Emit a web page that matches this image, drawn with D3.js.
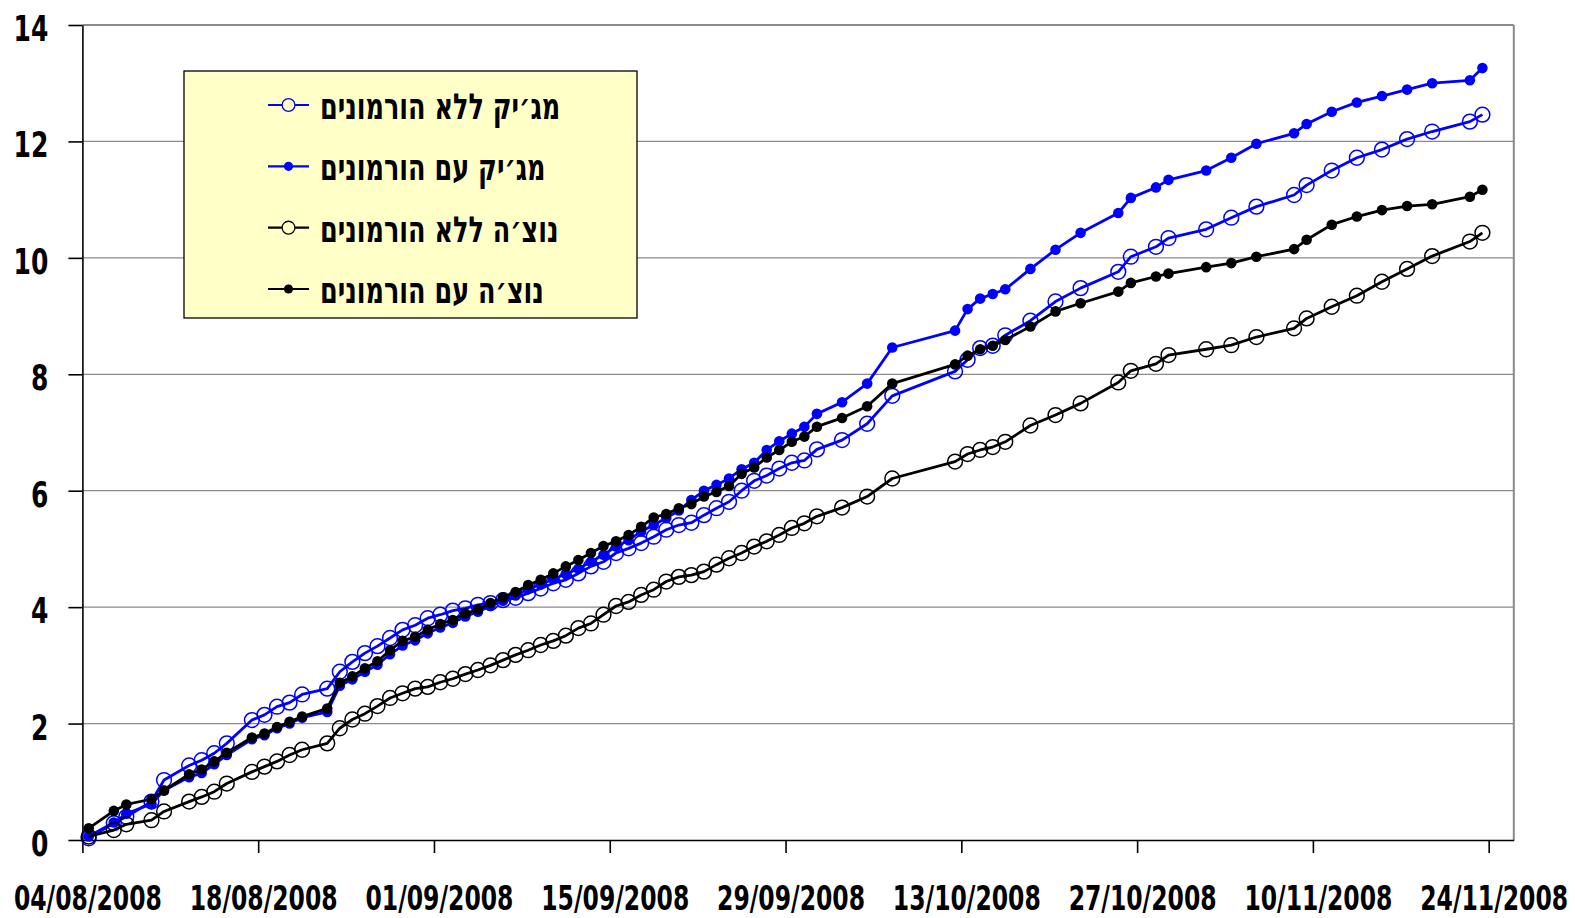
<!DOCTYPE html>
<html>
<head>
<meta charset="utf-8">
<script src="https://cdn.jsdelivr.net/npm/d3@7"></script>
<style>
  html, body { margin: 0; padding: 0; background: #fff; }
  svg { display: block; }
</style>
</head>
<body>
<svg id="chart" width="1575" height="918"></svg>
<script>
/* ---------- data ---------- */
const dates = [
  "04/08/2008", "06/08/2008", "07/08/2008", "09/08/2008", "10/08/2008", "12/08/2008",
  "13/08/2008", "14/08/2008", "15/08/2008", "17/08/2008", "18/08/2008", "19/08/2008",
  "20/08/2008", "21/08/2008", "23/08/2008",
  "24/08/2008", "25/08/2008", "26/08/2008", "27/08/2008", "28/08/2008", "29/08/2008",
  "30/08/2008", "31/08/2008", "01/09/2008", "02/09/2008", "03/09/2008", "04/09/2008",
  "05/09/2008", "06/09/2008", "07/09/2008", "08/09/2008", "09/09/2008", "10/09/2008",
  "11/09/2008", "12/09/2008", "13/09/2008", "14/09/2008", "15/09/2008", "16/09/2008",
  "17/09/2008", "18/09/2008", "19/09/2008", "20/09/2008", "21/09/2008", "22/09/2008",
  "23/09/2008", "24/09/2008", "25/09/2008", "26/09/2008", "27/09/2008", "28/09/2008",
  "29/09/2008", "30/09/2008", "01/10/2008",
  "03/10/2008", "05/10/2008", "07/10/2008", "12/10/2008", "13/10/2008", "14/10/2008",
  "15/10/2008", "16/10/2008", "18/10/2008", "20/10/2008", "22/10/2008", "25/10/2008",
  "26/10/2008", "28/10/2008", "29/10/2008", "01/11/2008", "03/11/2008", "05/11/2008",
  "08/11/2008", "09/11/2008", "11/11/2008", "13/11/2008", "15/11/2008", "17/11/2008",
  "19/11/2008", "22/11/2008", "23/11/2008"
];

// מג׳יק ללא הורמונים
const magicNo = [
  0.03, 0.29, 0.40, 0.66, 1.03, 1.28, 1.37, 1.49, 1.66, 2.06, 2.15, 2.29, 2.36, 2.50, 2.60,
  2.89, 3.06, 3.21, 3.33, 3.47, 3.61, 3.69, 3.81, 3.87, 3.94, 3.98, 4.04, 4.07, 4.12, 4.16,
  4.24, 4.32, 4.41, 4.47, 4.58, 4.70, 4.78, 4.93, 5.01, 5.10, 5.21, 5.33, 5.41, 5.45, 5.58,
  5.70, 5.81, 6.00, 6.17, 6.26, 6.38, 6.48, 6.52, 6.71,
  6.87, 7.15, 7.63, 8.05, 8.25, 8.45, 8.49, 8.67, 8.92, 9.25, 9.48, 9.76, 10.02, 10.19,
  10.34, 10.49, 10.69, 10.88, 11.08, 11.25, 11.50, 11.72, 11.86, 12.04, 12.17, 12.34, 12.46
];

// מג׳יק עם הורמונים
const magicWith = [
  0.06, 0.30, 0.45, 0.62, 0.85, 1.08, 1.15, 1.30, 1.46, 1.73, 1.80, 1.92, 2.00, 2.10, 2.20,
  2.65, 2.76, 2.89, 3.01, 3.19, 3.34, 3.43, 3.55, 3.65, 3.73, 3.84, 3.92, 4.02, 4.11, 4.20,
  4.31, 4.39, 4.48, 4.57, 4.66, 4.78, 4.90, 5.04, 5.15, 5.30, 5.41, 5.53, 5.66, 5.84, 6.00,
  6.10, 6.21, 6.37, 6.48, 6.70, 6.85, 6.98, 7.10, 7.32,
  7.52, 7.84, 8.46, 8.75, 9.12, 9.30, 9.38, 9.46, 9.81, 10.14, 10.43, 10.77, 11.03, 11.21,
  11.34, 11.50, 11.72, 11.96, 12.14, 12.30, 12.51, 12.67, 12.78, 12.89, 13.00, 13.05, 13.26
];

// נוצ׳ה ללא הורמונים
const notseNo = [
  0.06, 0.17, 0.27, 0.34, 0.49, 0.66, 0.74, 0.83, 0.97, 1.17, 1.26, 1.35, 1.46, 1.55, 1.66,
  1.92, 2.07, 2.17, 2.30, 2.44, 2.52, 2.60, 2.63, 2.71, 2.77, 2.85, 2.92, 3.00, 3.09, 3.18,
  3.26, 3.35, 3.42, 3.51, 3.64, 3.72, 3.87, 4.02, 4.09, 4.21, 4.30, 4.44, 4.52, 4.55, 4.61,
  4.73, 4.84, 4.93, 5.04, 5.13, 5.24, 5.36, 5.44, 5.56,
  5.71, 5.90, 6.21, 6.50, 6.63, 6.70, 6.75, 6.84, 7.12, 7.30, 7.50, 7.86, 8.06, 8.18,
  8.33, 8.43, 8.50, 8.64, 8.79, 8.96, 9.16, 9.35, 9.59, 9.81, 10.03, 10.28, 10.43
];

// נוצ׳ה עם הורמונים
const notseWith = [
  0.20, 0.50, 0.61, 0.70, 0.85, 1.13, 1.21, 1.35, 1.50, 1.76, 1.83, 1.94, 2.03, 2.12, 2.26,
  2.70, 2.81, 2.95, 3.07, 3.26, 3.42, 3.49, 3.61, 3.71, 3.78, 3.89, 3.96, 4.07, 4.17, 4.26,
  4.38, 4.47, 4.58, 4.70, 4.81, 4.93, 5.05, 5.13, 5.24, 5.38, 5.54, 5.60, 5.70, 5.77, 5.90,
  5.98, 6.08, 6.29, 6.40, 6.57, 6.70, 6.84, 6.93, 7.10,
  7.25, 7.45, 7.84, 8.17, 8.32, 8.43, 8.49, 8.59, 8.82, 9.08, 9.22, 9.42, 9.57, 9.68,
  9.73, 9.84, 9.91, 10.02, 10.15, 10.31, 10.57, 10.71, 10.82, 10.89, 10.92, 11.05, 11.17
];

const seriesNames = [
  "מג׳יק ללא הורמונים",
  "מג׳יק עם הורמונים",
  "נוצ׳ה ללא הורמונים",
  "נוצ׳ה עם הורמונים"
];

const xTickLabels = [
  "04/08/2008", "18/08/2008", "01/09/2008", "15/09/2008", "29/09/2008",
  "13/10/2008", "27/10/2008", "10/11/2008", "24/11/2008"
];
const yTicks = [0, 2, 4, 6, 8, 10, 12, 14];

/* ---------- setup ---------- */
const parseDate = d3.utcParse("%d/%m/%Y");
const FONT = "'DejaVu Sans', Verdana, sans-serif";
const STRETCH = 1.42; // labels in the original are tall and narrow

const plot = { left: 82.4, right: 1513.8, top: 25, bottom: 840 };

const x = d3
  .scaleUtc()
  .domain([parseDate("04/08/2008"), parseDate("26/11/2008")])
  .range([plot.left, plot.right]);

const y = d3.scaleLinear().domain([0, 14]).range([plot.bottom, plot.top]);

// points sit in the middle of their day slot (like an Excel date axis)
const xMid = (d) => x(d3.utcHour.offset(d, 12));

const series = [
  { name: seriesNames[0], values: magicNo, color: "#0000ff", filled: false },
  { name: seriesNames[1], values: magicWith, color: "#0000ff", filled: true },
  { name: seriesNames[2], values: notseNo, color: "#000000", filled: false },
  { name: seriesNames[3], values: notseWith, color: "#000000", filled: true }
];

const parsedDates = dates.map(parseDate);

const svg = d3.select("#chart");

/* --- grid + plot frame --- */
svg
  .append("g")
  .selectAll("line")
  .data(yTicks.filter((v) => v > 0))
  .join("line")
  .attr("x1", plot.left)
  .attr("x2", plot.right)
  .attr("y1", (d) => y(d))
  .attr("y2", (d) => y(d))
  .attr("stroke", "#8a8a8a")
  .attr("stroke-width", (d) => (d === 14 ? 2 : 1.2));

svg
  .append("line")
  .attr("x1", plot.right)
  .attr("x2", plot.right)
  .attr("y1", plot.top)
  .attr("y2", plot.bottom)
  .attr("stroke", "#8a8a8a")
  .attr("stroke-width", 2);

/* --- axes --- */
const yAxis = d3
  .axisLeft(y)
  .tickValues(yTicks)
  .tickSize(14)
  .tickSizeOuter(0)
  .tickFormat(d3.format("d"));

svg
  .append("g")
  .attr("transform", `translate(${plot.left},0)`)
  .call(yAxis)
  .call((g) => {
    g.select(".domain").attr("stroke", "#000").attr("stroke-width", 1.6);
    g.selectAll(".tick line").attr("stroke", "#000").attr("stroke-width", 1.6);
    g.selectAll(".tick text")
      .attr("x", -34)
      .attr("y", 15.5 / STRETCH)
      .attr("dy", null)
      .attr("transform", `scale(1,${STRETCH})`)
      .attr("text-anchor", "end")
      .attr("font-family", FONT)
      .attr("font-weight", "bold")
      .attr("font-size", 25)
      .attr("fill", "#000");
  });

const xAxis = d3
  .axisBottom(x)
  .tickValues(xTickLabels.map(parseDate))
  .tickSize(13)
  .tickSizeOuter(0)
  .tickFormat(d3.utcFormat("%d/%m/%Y"));

svg
  .append("g")
  .attr("transform", `translate(0,${plot.bottom})`)
  .call(xAxis)
  .call((g) => {
    g.select(".domain").attr("stroke", "#000").attr("stroke-width", 1.6);
    g.selectAll(".tick line").attr("stroke", "#000").attr("stroke-width", 1.6);
    g.selectAll(".tick text")
      .attr("x", 5)
      .attr("y", 70 / STRETCH)
      .attr("dy", null)
      .attr("transform", `scale(1,${STRETCH})`)
      .attr("text-anchor", "middle")
      .attr("font-family", FONT)
      .attr("font-weight", "bold")
      .attr("font-size", 23.5)
      .attr("fill", "#000");
  });

/* --- series --- */
const line = d3
  .line()
  .x((d) => xMid(d.date))
  .y((d) => y(d.value));

series.forEach((s) => {
  const pts = s.values.map((v, i) => ({ date: parsedDates[i], value: v }));
  const g = svg.append("g");

  g.append("path")
    .datum(pts)
    .attr("d", line)
    .attr("fill", "none")
    .attr("stroke", s.color)
    .attr("stroke-width", 2.8)
    .attr("stroke-linejoin", "round");

  g.selectAll("circle")
    .data(pts)
    .join("circle")
    .attr("cx", (d) => xMid(d.date))
    .attr("cy", (d) => y(d.value))
    .attr("r", s.filled ? 5.3 : 7.4)
    .attr("fill", s.filled ? s.color : "none")
    .attr("stroke", s.color)
    .attr("stroke-width", s.filled ? 0 : 1.5);
});

/* --- legend --- */
const legend = svg.append("g");

legend
  .append("rect")
  .attr("x", 184)
  .attr("y", 71)
  .attr("width", 453)
  .attr("height", 247)
  .attr("fill", "#ffffc8")
  .attr("stroke", "#000")
  .attr("stroke-width", 1.3);

const rowY = d3.scalePoint().domain(seriesNames).range([105, 289]);

const rows = legend
  .selectAll("g.row")
  .data(series)
  .join("g")
  .attr("class", "row")
  .attr("transform", (d) => `translate(0,${rowY(d.name)})`);

rows
  .append("line")
  .attr("x1", 268)
  .attr("x2", 309)
  .attr("stroke", (d) => d.color)
  .attr("stroke-width", 2.2);

rows
  .append("circle")
  .attr("cx", 288.5)
  .attr("r", (d) => (d.filled ? 4.6 : 6.4))
  .attr("fill", (d) => (d.filled ? d.color : "#ffffc8"))
  .attr("stroke", (d) => d.color)
  .attr("stroke-width", (d) => (d.filled ? 0 : 1.3));

rows
  .append("text")
  .attr("transform", `translate(320,14) scale(1,1.4)`)
  .attr("font-family", FONT)
  .attr("font-weight", "bold")
  .attr("font-size", 25.5)
  .attr("fill", "#000")
  .text((d) => d.name);
</script>
</body>
</html>
